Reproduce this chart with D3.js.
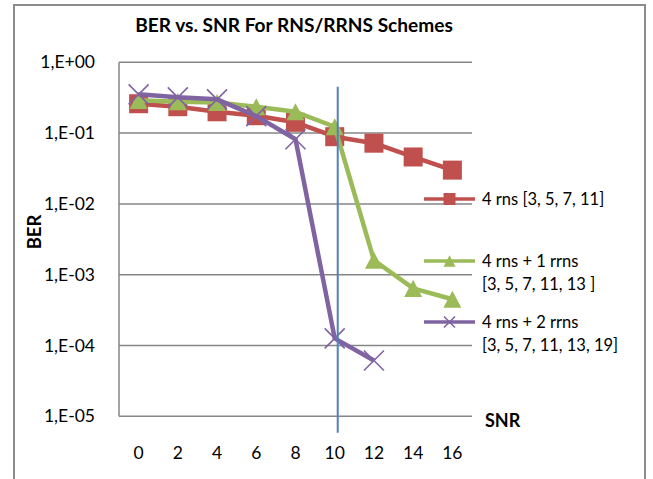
<!DOCTYPE html>
<html>
<head>
<meta charset="utf-8">
<script src="https://cdn.jsdelivr.net/npm/d3@7"></script>
<style>
  html, body { margin: 0; padding: 0; background: #fff; }
  svg { display: block; }
  text { font-family: Lato, "Open Sans", sans-serif; fill: #000; }
</style>
</head>
<body>
<script>
const categories = ["0", "2", "4", "6", "8", "10", "12", "14", "16"];
const rns4 = [0.26, 0.236, 0.2, 0.176, 0.142, 0.089, 0.072, 0.046, 0.030];
const rns4rrns1 = [0.29, 0.278, 0.27, 0.236, 0.2, 0.123, 0.0016, 0.00064, 0.00045];
const rns4rrns2 = [0.353, 0.32, 0.30, 0.174, 0.082, 0.000126, 0.0000614, null, null];
const yTickValues = [1, 1e-1, 1e-2, 1e-3, 1e-4, 1e-5];
const yTickLabels = ["1,E+00", "1,E-01", "1,E-02", "1,E-03", "1,E-04", "1,E-05"];
const seriesNames = ["4 rns [3, 5, 7, 11]", "4 rns + 1 rrns|[3, 5, 7, 11, 13 ]", "4 rns + 2 rrns|[3, 5, 7, 11, 13, 19]"];
const markerLine = "10";

const W = 653, H = 479;
const svg = d3.select("body").append("svg").attr("width", W).attr("height", H);

// outer chart border
svg.append("rect").attr("x", 14).attr("y", 5).attr("width", 631).attr("height", 500)
  .attr("fill", "#fff").attr("stroke", "#8c8c8c").attr("stroke-width", 2);

const plot = { left: 119, right: 472, top: 62.3, bottom: 416.3 };
const x = d3.scaleBand().domain(categories).range([plot.left, plot.right]);
const xc = c => x(c) + x.bandwidth() / 2;
const y = d3.scaleLog().domain([1e-5, 1]).range([plot.bottom, plot.top]);

// gridlines
svg.append("g").selectAll("line").data(yTickValues).join("line")
  .attr("x1", plot.left).attr("x2", plot.right)
  .attr("y1", d => y(d)).attr("y2", d => y(d))
  .attr("stroke", "#868686").attr("stroke-width", 1.5);
// left axis line
svg.append("line").attr("x1", plot.left).attr("x2", plot.left)
  .attr("y1", plot.top).attr("y2", plot.bottom)
  .attr("stroke", "#868686").attr("stroke-width", 1.5);

// y tick labels
svg.append("g").selectAll("text").data(yTickValues).join("text")
  .attr("x", 95).attr("y", d => y(d)).attr("dy", "0.35em")
  .attr("text-anchor", "end").style("font-size", "17.5px")
  .text((d, i) => yTickLabels[i]);

// x tick labels
svg.append("g").selectAll("text").data(categories).join("text")
  .attr("x", d => xc(d)).attr("y", 453).attr("dy", "0.35em")
  .attr("text-anchor", "middle").style("font-size", "17.5px")
  .text(d => d);

// title
svg.append("text").attr("x", 294).attr("y", 25).attr("dy", "0.35em")
  .attr("text-anchor", "middle").style("font-size", "19.1px").style("font-weight", "bold")
  .text("BER vs. SNR For RNS/RRNS Schemes");

// axis titles
svg.append("text").attr("transform", "translate(35,232) rotate(-90)").attr("dy", "0.35em")
  .attr("text-anchor", "middle").style("font-size", "18.5px").style("font-weight", "bold")
  .text("BER");
svg.append("text").attr("x", 485).attr("y", 421).attr("dy", "0.35em")
  .style("font-size", "18px").style("font-weight", "bold").text("SNR");

const colors = ["#C0504D", "#9BBB59", "#8064A2"];
const allSeries = [rns4, rns4rrns1, rns4rrns2];
const line = d3.line().defined(d => d.v != null).x(d => xc(d.c)).y(d => y(d.v));

function drawMarker(g, kind, cx, cy, size, color) {
  if (kind === 0) {
    g.append("rect").attr("x", cx - size / 2).attr("y", cy - size / 2)
      .attr("width", size).attr("height", size).attr("fill", color);
  } else if (kind === 1) {
    const h = size * 0.95;
    g.append("path").attr("d", `M${cx},${cy - h / 2} L${cx + size / 2},${cy + h / 2} L${cx - size / 2},${cy + h / 2} Z`)
      .attr("fill", color);
  } else {
    const s = size / 2;
    g.append("path").attr("d", `M${cx - s},${cy - s} L${cx + s},${cy + s} M${cx - s},${cy + s} L${cx + s},${cy - s}`)
      .attr("stroke", color).attr("stroke-width", 1.6).attr("fill", "none");
  }
}

allSeries.forEach((vals, si) => {
  const data = categories.map((c, i) => ({ c, v: vals[i] }));
  const g = svg.append("g");
  g.append("path").datum(data).attr("d", line)
    .attr("fill", "none").attr("stroke", colors[si]).attr("stroke-width", 4.5)
    .attr("stroke-linejoin", "round");
  data.filter(d => d.v != null).forEach(d => {
    drawMarker(g, si, xc(d.c), y(d.v), si === 0 ? 19 : (si === 1 ? 18 : 20), colors[si]);
  });
});

// vertical blue annotation line at SNR 10
svg.append("line")
  .attr("x1", xc(markerLine) + 3).attr("x2", xc(markerLine) + 3)
  .attr("y1", y(1) + 24.5).attr("y2", y(1e-5) + 16.5)
  .attr("stroke", "#4F81BD").attr("stroke-width", 2);

// legend
const legendY = [199, 261, 322];
seriesNames.forEach((name, si) => {
  const g = svg.append("g");
  const ly = legendY[si];
  g.append("line").attr("x1", 424).attr("x2", 475).attr("y1", ly).attr("y2", ly)
    .attr("stroke", colors[si]).attr("stroke-width", 3.5);
  drawMarker(g, si, 449.5, ly, si === 2 ? 11 : 12, colors[si]);
  name.split("|").forEach((t, li) => {
    g.append("text").attr("x", 482).attr("y", ly + li * 23.5).attr("dy", "0.35em")
      .style("font-size", "16.5px").text(t);
  });
});
</script>
</body>
</html>
